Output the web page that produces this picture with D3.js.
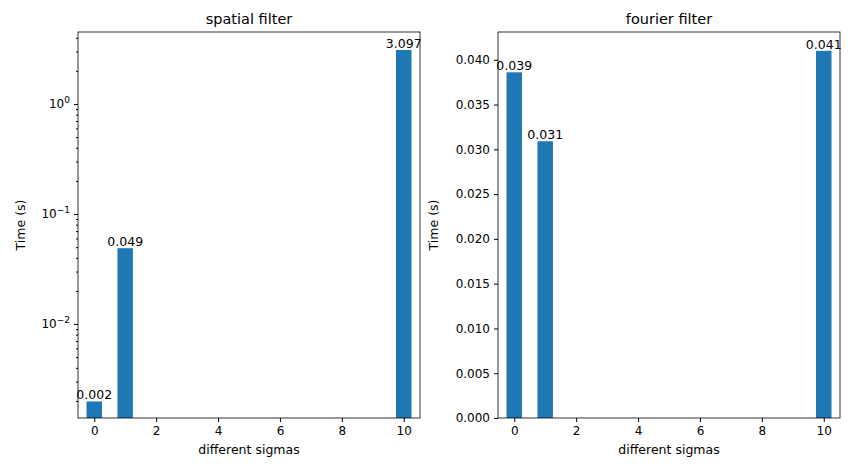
<!DOCTYPE html><html><head><meta charset="utf-8">
<script src="https://cdn.jsdelivr.net/npm/d3@7"></script>
<style>body{margin:0;background:#fff}text{font-family:"DejaVu Sans",sans-serif}</style></head><body>
<svg id="c" width="857" height="470"></svg>
<script>
const sigmas=[0,1,10];
const spatial=[0.00198,0.0489,3.097];
const fourier=[0.0386,0.0309,0.0410];
const xTicks=[0,2,4,6,8,10];
const fourierTicks=[0,0.005,0.01,0.015,0.02,0.025,0.03,0.035,0.04];
const svg=d3.select("#c");
const yTop=32,bot=418,color="#1f77b4";
function panel(x0,x1,title,vals,y,logy){
  const g=svg.append("g");
  const x=d3.scaleLinear().domain([-0.525,10.525]).range([x0,x1]);
  g.selectAll("rect").data(sigmas).enter().append("rect")
   .attr("x",d=>x(d-0.25)).attr("width",d=>x(d+0.25)-x(d-0.25))
   .attr("y",(d,i)=>y(vals[i])).attr("height",(d,i)=>bot-y(vals[i])).attr("fill",color);
  g.selectAll("text.l").data(sigmas).enter().append("text").attr("class","l")
   .attr("x",d=>x(d)).attr("y",(d,i)=>y(vals[i])-2).attr("text-anchor","middle")
   .attr("font-size",12.5).text((d,i)=>vals[i].toFixed(3));
  const xa=g.append("g").attr("transform",`translate(0,${bot})`).call(d3.axisBottom(x).tickValues(xTicks).tickSize(4).tickPadding(4));
  xa.select(".domain").remove();
  xa.selectAll("text").attr("font-size",12).attr("font-family","DejaVu Sans");
  let ya;
  if(logy){
    const minor=[];
    for(let e=-3;e<=0;e++)for(let m=1;m<10;m++){const v=m*Math.pow(10,e);if(v>=y.domain()[0]&&v<=y.domain()[1])minor.push(v);}
    g.append("g").attr("transform",`translate(${x0},0)`).call(d3.axisLeft(y).tickValues(minor).tickSize(2).tickFormat("")).select(".domain").remove();
    ya=g.append("g").attr("transform",`translate(${x0},0)`).call(d3.axisLeft(y).tickValues([0.01,0.1,1]).tickSize(4).tickPadding(4).tickFormat(""));
    ya.selectAll(".tick").append("text").attr("x",-8).attr("dy","0.32em").attr("text-anchor","end").attr("fill","#000").attr("font-size",12)
      .each(function(d){const e=Math.round(Math.log10(d));const t=d3.select(this);t.append("tspan").text("10");t.append("tspan").attr("font-size",9).attr("dy","-0.6em").text(e===0?"0":"\u2212"+(-e));});
  }else{
    ya=g.append("g").attr("transform",`translate(${x0},0)`).call(d3.axisLeft(y).tickValues(fourierTicks).tickSize(4).tickPadding(4).tickFormat(d3.format(".3f")));
    ya.selectAll("text").attr("font-size",12).attr("font-family","DejaVu Sans");
  }
  ya.select(".domain").remove();
  g.append("rect").attr("x",x0).attr("y",yTop).attr("width",x1-x0).attr("height",bot-yTop).attr("fill","none").attr("stroke","#000").attr("stroke-width",0.8);
  g.append("text").attr("x",(x0+x1)/2).attr("y",yTop-8).attr("text-anchor","middle").attr("font-size",14.5).text(title);
  g.append("text").attr("x",(x0+x1)/2).attr("y",bot+36).attr("text-anchor","middle").attr("font-size",12.5).text("different sigmas");
  g.append("text").attr("transform",`translate(${x0-(logy?53:60)},${(yTop+bot)/2}) rotate(-90)`).attr("text-anchor","middle").attr("font-size",12.5).text("Time (s)");
}
const yL=d3.scaleLog().domain([0.0014,4.51]).range([bot,yTop]);
const yR=d3.scaleLinear().domain([0,0.0431]).range([bot,yTop]);
panel(78,420,"spatial filter",spatial,yL,true);
panel(498,840,"fourier filter",fourier,yR,false);
</script></body></html>
